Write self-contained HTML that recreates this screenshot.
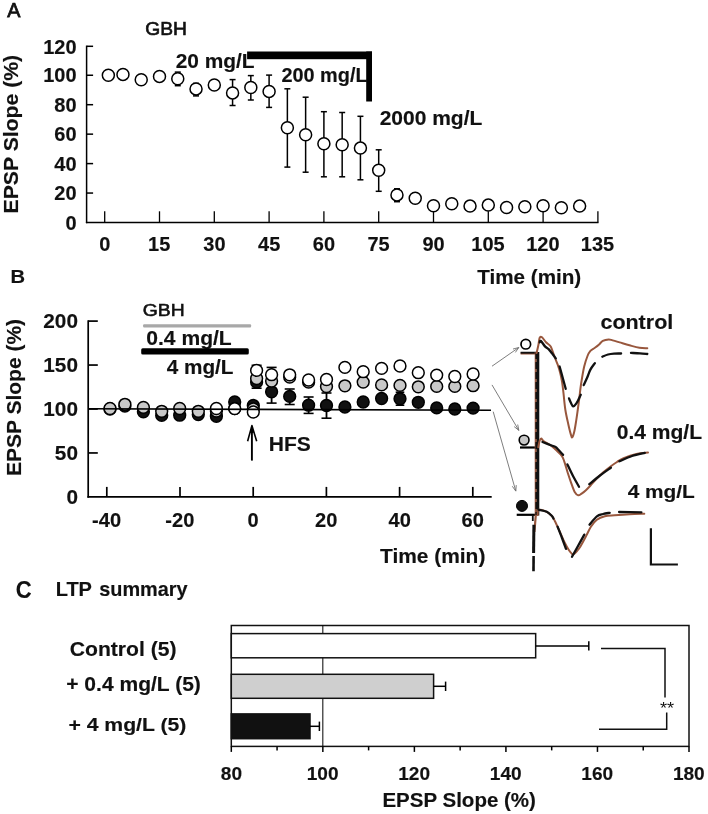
<!DOCTYPE html>
<html><head><meta charset="utf-8"><style>
html,body{margin:0;padding:0;background:#fff;}
svg{display:block;will-change:transform;}
text{font-family:"Liberation Sans",sans-serif;fill:#111;}
text[font-weight=bold]{stroke:#111;stroke-width:0.15px;}
</style></head><body>
<svg width="708" height="814" viewBox="0 0 708 814">
<rect width="708" height="814" fill="#fff"/>
<text x="7.15" y="16.90" font-size="20.14" font-weight="normal" textLength="13.19" lengthAdjust="spacingAndGlyphs" stroke="#111" stroke-width="0.75">A</text>
<text x="145.34" y="35.00" font-size="18.70" font-weight="normal" textLength="41.64" lengthAdjust="spacingAndGlyphs" stroke="#111" stroke-width="0.65">GBH</text>
<g transform="rotate(-90)"><text x="-213.43" y="17.70" font-size="19.86" font-weight="bold" textLength="158.61" lengthAdjust="spacingAndGlyphs">EPSP Slope (%)</text></g>
<line x1="86.60" y1="45.60" x2="86.60" y2="223.20" stroke="#000" stroke-width="1.5"/>
<line x1="85.90" y1="222.50" x2="598.50" y2="222.50" stroke="#000" stroke-width="1.5"/>
<text x="65.41" y="229.70" font-size="19.50" font-weight="bold" textLength="11.12" lengthAdjust="spacingAndGlyphs">0</text>
<line x1="86.60" y1="193.05" x2="93.10" y2="193.05" stroke="#000" stroke-width="1.5"/>
<text x="54.32" y="200.25" font-size="19.50" font-weight="bold" textLength="22.23" lengthAdjust="spacingAndGlyphs">20</text>
<line x1="86.60" y1="163.60" x2="93.10" y2="163.60" stroke="#000" stroke-width="1.5"/>
<text x="54.32" y="170.80" font-size="19.50" font-weight="bold" textLength="22.23" lengthAdjust="spacingAndGlyphs">40</text>
<line x1="86.60" y1="134.15" x2="93.10" y2="134.15" stroke="#000" stroke-width="1.5"/>
<text x="54.32" y="141.35" font-size="19.50" font-weight="bold" textLength="22.23" lengthAdjust="spacingAndGlyphs">60</text>
<line x1="86.60" y1="104.70" x2="93.10" y2="104.70" stroke="#000" stroke-width="1.5"/>
<text x="54.32" y="111.90" font-size="19.50" font-weight="bold" textLength="22.23" lengthAdjust="spacingAndGlyphs">80</text>
<line x1="86.60" y1="75.25" x2="93.10" y2="75.25" stroke="#000" stroke-width="1.5"/>
<text x="43.17" y="82.45" font-size="19.50" font-weight="bold" textLength="33.35" lengthAdjust="spacingAndGlyphs">100</text>
<line x1="86.60" y1="46.30" x2="93.10" y2="46.30" stroke="#000" stroke-width="1.5"/>
<text x="43.17" y="53.50" font-size="19.50" font-weight="bold" textLength="33.35" lengthAdjust="spacingAndGlyphs">120</text>
<line x1="104.70" y1="222.50" x2="104.70" y2="211.30" stroke="#000" stroke-width="1.3"/>
<text x="99.15" y="250.50" font-size="19.50" font-weight="bold" textLength="11.12" lengthAdjust="spacingAndGlyphs">0</text>
<line x1="159.50" y1="222.50" x2="159.50" y2="211.30" stroke="#000" stroke-width="1.3"/>
<text x="148.06" y="250.50" font-size="19.50" font-weight="bold" textLength="22.23" lengthAdjust="spacingAndGlyphs">15</text>
<line x1="214.30" y1="222.50" x2="214.30" y2="211.30" stroke="#000" stroke-width="1.3"/>
<text x="203.38" y="250.50" font-size="19.50" font-weight="bold" textLength="22.23" lengthAdjust="spacingAndGlyphs">30</text>
<line x1="269.10" y1="222.50" x2="269.10" y2="211.30" stroke="#000" stroke-width="1.3"/>
<text x="258.13" y="250.50" font-size="19.50" font-weight="bold" textLength="22.23" lengthAdjust="spacingAndGlyphs">45</text>
<line x1="323.90" y1="222.50" x2="323.90" y2="211.30" stroke="#000" stroke-width="1.3"/>
<text x="312.83" y="250.50" font-size="19.50" font-weight="bold" textLength="22.23" lengthAdjust="spacingAndGlyphs">60</text>
<line x1="378.70" y1="222.50" x2="378.70" y2="211.30" stroke="#000" stroke-width="1.3"/>
<text x="367.46" y="250.50" font-size="19.50" font-weight="bold" textLength="22.23" lengthAdjust="spacingAndGlyphs">75</text>
<line x1="433.50" y1="222.50" x2="433.50" y2="211.30" stroke="#000" stroke-width="1.3"/>
<text x="422.46" y="250.50" font-size="19.50" font-weight="bold" textLength="22.23" lengthAdjust="spacingAndGlyphs">90</text>
<line x1="488.30" y1="222.50" x2="488.30" y2="211.30" stroke="#000" stroke-width="1.3"/>
<text x="471.29" y="250.50" font-size="19.50" font-weight="bold" textLength="33.35" lengthAdjust="spacingAndGlyphs">105</text>
<line x1="543.10" y1="222.50" x2="543.10" y2="211.30" stroke="#000" stroke-width="1.3"/>
<text x="526.21" y="250.50" font-size="19.50" font-weight="bold" textLength="33.35" lengthAdjust="spacingAndGlyphs">120</text>
<line x1="597.90" y1="222.50" x2="597.90" y2="211.30" stroke="#000" stroke-width="1.3"/>
<text x="580.89" y="250.50" font-size="19.50" font-weight="bold" textLength="33.35" lengthAdjust="spacingAndGlyphs">135</text>
<text x="477.19" y="283.70" font-size="20.14" font-weight="bold" textLength="104.04" lengthAdjust="spacingAndGlyphs">Time (min)</text>
<rect x="247.10" y="51.50" width="124.90" height="7.70" fill="#000"/>
<rect x="366.20" y="51.50" width="5.80" height="50.00" fill="#000"/>
<text x="175.67" y="68.40" font-size="20.29" font-weight="bold" textLength="78.89" lengthAdjust="spacingAndGlyphs">20 mg/L</text>
<text x="281.40" y="81.50" font-size="20.43" font-weight="bold" textLength="86.19" lengthAdjust="spacingAndGlyphs">200 mg/L</text>
<text x="379.67" y="125.40" font-size="20.29" font-weight="bold" textLength="102.69" lengthAdjust="spacingAndGlyphs">2000 mg/L</text>
<line x1="177.77" y1="72.10" x2="177.77" y2="85.70" stroke="#000" stroke-width="1.5"/>
<line x1="174.77" y1="72.10" x2="180.77" y2="72.10" stroke="#000" stroke-width="1.5"/>
<line x1="174.77" y1="85.70" x2="180.77" y2="85.70" stroke="#000" stroke-width="1.5"/>
<line x1="196.03" y1="83.40" x2="196.03" y2="95.90" stroke="#000" stroke-width="1.5"/>
<line x1="193.03" y1="83.40" x2="199.03" y2="83.40" stroke="#000" stroke-width="1.5"/>
<line x1="193.03" y1="95.90" x2="199.03" y2="95.90" stroke="#000" stroke-width="1.5"/>
<line x1="232.57" y1="79.60" x2="232.57" y2="105.50" stroke="#000" stroke-width="1.5"/>
<line x1="229.57" y1="79.60" x2="235.57" y2="79.60" stroke="#000" stroke-width="1.5"/>
<line x1="229.57" y1="105.50" x2="235.57" y2="105.50" stroke="#000" stroke-width="1.5"/>
<line x1="250.83" y1="75.60" x2="250.83" y2="100.00" stroke="#000" stroke-width="1.5"/>
<line x1="247.83" y1="75.60" x2="253.83" y2="75.60" stroke="#000" stroke-width="1.5"/>
<line x1="247.83" y1="100.00" x2="253.83" y2="100.00" stroke="#000" stroke-width="1.5"/>
<line x1="269.10" y1="75.10" x2="269.10" y2="107.40" stroke="#000" stroke-width="1.5"/>
<line x1="266.10" y1="75.10" x2="272.10" y2="75.10" stroke="#000" stroke-width="1.5"/>
<line x1="266.10" y1="107.40" x2="272.10" y2="107.40" stroke="#000" stroke-width="1.5"/>
<line x1="287.37" y1="88.80" x2="287.37" y2="167.10" stroke="#000" stroke-width="1.5"/>
<line x1="284.37" y1="88.80" x2="290.37" y2="88.80" stroke="#000" stroke-width="1.5"/>
<line x1="284.37" y1="167.10" x2="290.37" y2="167.10" stroke="#000" stroke-width="1.5"/>
<line x1="305.63" y1="97.20" x2="305.63" y2="172.20" stroke="#000" stroke-width="1.5"/>
<line x1="302.63" y1="97.20" x2="308.63" y2="97.20" stroke="#000" stroke-width="1.5"/>
<line x1="302.63" y1="172.20" x2="308.63" y2="172.20" stroke="#000" stroke-width="1.5"/>
<line x1="323.90" y1="111.70" x2="323.90" y2="176.80" stroke="#000" stroke-width="1.5"/>
<line x1="320.90" y1="111.70" x2="326.90" y2="111.70" stroke="#000" stroke-width="1.5"/>
<line x1="320.90" y1="176.80" x2="326.90" y2="176.80" stroke="#000" stroke-width="1.5"/>
<line x1="342.17" y1="112.50" x2="342.17" y2="176.80" stroke="#000" stroke-width="1.5"/>
<line x1="339.17" y1="112.50" x2="345.17" y2="112.50" stroke="#000" stroke-width="1.5"/>
<line x1="339.17" y1="176.80" x2="345.17" y2="176.80" stroke="#000" stroke-width="1.5"/>
<line x1="360.43" y1="116.30" x2="360.43" y2="179.80" stroke="#000" stroke-width="1.5"/>
<line x1="357.43" y1="116.30" x2="363.43" y2="116.30" stroke="#000" stroke-width="1.5"/>
<line x1="357.43" y1="179.80" x2="363.43" y2="179.80" stroke="#000" stroke-width="1.5"/>
<line x1="378.70" y1="149.80" x2="378.70" y2="191.30" stroke="#000" stroke-width="1.5"/>
<line x1="375.70" y1="149.80" x2="381.70" y2="149.80" stroke="#000" stroke-width="1.5"/>
<line x1="375.70" y1="191.30" x2="381.70" y2="191.30" stroke="#000" stroke-width="1.5"/>
<line x1="396.97" y1="188.80" x2="396.97" y2="201.70" stroke="#000" stroke-width="1.5"/>
<line x1="393.97" y1="188.80" x2="399.97" y2="188.80" stroke="#000" stroke-width="1.5"/>
<line x1="393.97" y1="201.70" x2="399.97" y2="201.70" stroke="#000" stroke-width="1.5"/>
<circle cx="108.35" cy="75.30" r="6.00" fill="#fff" stroke="#000" stroke-width="1.5"/>
<circle cx="122.97" cy="74.40" r="6.00" fill="#fff" stroke="#000" stroke-width="1.5"/>
<circle cx="141.23" cy="79.80" r="6.00" fill="#fff" stroke="#000" stroke-width="1.5"/>
<circle cx="159.50" cy="76.40" r="6.00" fill="#fff" stroke="#000" stroke-width="1.5"/>
<circle cx="177.77" cy="78.70" r="6.00" fill="#fff" stroke="#000" stroke-width="1.5"/>
<circle cx="196.03" cy="88.90" r="6.00" fill="#fff" stroke="#000" stroke-width="1.5"/>
<circle cx="214.30" cy="85.00" r="6.00" fill="#fff" stroke="#000" stroke-width="1.5"/>
<circle cx="232.57" cy="92.90" r="6.00" fill="#fff" stroke="#000" stroke-width="1.5"/>
<circle cx="250.83" cy="87.50" r="6.00" fill="#fff" stroke="#000" stroke-width="1.5"/>
<circle cx="269.10" cy="91.40" r="6.00" fill="#fff" stroke="#000" stroke-width="1.5"/>
<circle cx="287.37" cy="127.70" r="6.00" fill="#fff" stroke="#000" stroke-width="1.5"/>
<circle cx="305.63" cy="134.80" r="6.00" fill="#fff" stroke="#000" stroke-width="1.5"/>
<circle cx="323.90" cy="143.70" r="6.00" fill="#fff" stroke="#000" stroke-width="1.5"/>
<circle cx="342.17" cy="144.80" r="6.00" fill="#fff" stroke="#000" stroke-width="1.5"/>
<circle cx="360.43" cy="148.10" r="6.00" fill="#fff" stroke="#000" stroke-width="1.5"/>
<circle cx="378.70" cy="170.20" r="6.00" fill="#fff" stroke="#000" stroke-width="1.5"/>
<circle cx="396.97" cy="194.90" r="6.00" fill="#fff" stroke="#000" stroke-width="1.5"/>
<circle cx="415.23" cy="198.30" r="6.00" fill="#fff" stroke="#000" stroke-width="1.5"/>
<circle cx="433.50" cy="205.80" r="6.00" fill="#fff" stroke="#000" stroke-width="1.5"/>
<circle cx="451.77" cy="203.70" r="6.00" fill="#fff" stroke="#000" stroke-width="1.5"/>
<circle cx="470.03" cy="206.10" r="6.00" fill="#fff" stroke="#000" stroke-width="1.5"/>
<circle cx="488.30" cy="205.10" r="6.00" fill="#fff" stroke="#000" stroke-width="1.5"/>
<circle cx="506.57" cy="207.50" r="6.00" fill="#fff" stroke="#000" stroke-width="1.5"/>
<circle cx="524.83" cy="206.80" r="6.00" fill="#fff" stroke="#000" stroke-width="1.5"/>
<circle cx="543.10" cy="205.80" r="6.00" fill="#fff" stroke="#000" stroke-width="1.5"/>
<circle cx="561.37" cy="207.80" r="6.00" fill="#fff" stroke="#000" stroke-width="1.5"/>
<circle cx="579.63" cy="206.10" r="6.00" fill="#fff" stroke="#000" stroke-width="1.5"/>
<text x="10.64" y="282.90" font-size="17.83" font-weight="bold" textLength="14.56" lengthAdjust="spacingAndGlyphs">B</text>
<g transform="rotate(-90)"><text x="-476.12" y="21.00" font-size="20.58" font-weight="bold" textLength="157.19" lengthAdjust="spacingAndGlyphs">EPSP Slope (%)</text></g>
<line x1="88.20" y1="320.30" x2="88.20" y2="497.70" stroke="#000" stroke-width="1.7"/>
<line x1="87.40" y1="496.90" x2="491.70" y2="496.90" stroke="#000" stroke-width="1.7"/>
<text x="66.40" y="503.90" font-size="20.07" font-weight="bold" textLength="11.55" lengthAdjust="spacingAndGlyphs">0</text>
<line x1="88.20" y1="452.95" x2="97.80" y2="452.95" stroke="#000" stroke-width="1.7"/>
<text x="54.87" y="459.95" font-size="20.07" font-weight="bold" textLength="23.11" lengthAdjust="spacingAndGlyphs">50</text>
<line x1="88.20" y1="409.00" x2="97.80" y2="409.00" stroke="#000" stroke-width="1.7"/>
<text x="43.29" y="416.00" font-size="20.07" font-weight="bold" textLength="34.66" lengthAdjust="spacingAndGlyphs">100</text>
<line x1="88.20" y1="365.05" x2="97.80" y2="365.05" stroke="#000" stroke-width="1.7"/>
<text x="43.29" y="372.05" font-size="20.07" font-weight="bold" textLength="34.66" lengthAdjust="spacingAndGlyphs">150</text>
<line x1="88.20" y1="321.10" x2="97.80" y2="321.10" stroke="#000" stroke-width="1.7"/>
<text x="43.29" y="328.10" font-size="20.07" font-weight="bold" textLength="34.66" lengthAdjust="spacingAndGlyphs">200</text>
<line x1="106.80" y1="496.90" x2="106.80" y2="486.90" stroke="#000" stroke-width="1.7"/>
<text x="92.10" y="526.80" font-size="20.07" font-weight="bold" textLength="29.01" lengthAdjust="spacingAndGlyphs">-40</text>
<line x1="180.00" y1="496.90" x2="180.00" y2="486.90" stroke="#000" stroke-width="1.7"/>
<text x="165.30" y="526.80" font-size="20.07" font-weight="bold" textLength="29.01" lengthAdjust="spacingAndGlyphs">-20</text>
<line x1="253.20" y1="496.90" x2="253.20" y2="486.90" stroke="#000" stroke-width="1.7"/>
<text x="247.43" y="526.80" font-size="20.07" font-weight="bold" textLength="11.16" lengthAdjust="spacingAndGlyphs">0</text>
<line x1="326.40" y1="496.90" x2="326.40" y2="486.90" stroke="#000" stroke-width="1.7"/>
<text x="315.11" y="526.80" font-size="20.07" font-weight="bold" textLength="22.33" lengthAdjust="spacingAndGlyphs">20</text>
<line x1="399.60" y1="496.90" x2="399.60" y2="486.90" stroke="#000" stroke-width="1.7"/>
<text x="388.51" y="526.80" font-size="20.07" font-weight="bold" textLength="22.33" lengthAdjust="spacingAndGlyphs">40</text>
<line x1="472.80" y1="496.90" x2="472.80" y2="486.90" stroke="#000" stroke-width="1.7"/>
<text x="461.49" y="526.80" font-size="20.07" font-weight="bold" textLength="22.33" lengthAdjust="spacingAndGlyphs">60</text>
<text x="379.99" y="562.80" font-size="20.72" font-weight="bold" textLength="105.36" lengthAdjust="spacingAndGlyphs">Time (min)</text>
<text x="142.83" y="315.50" font-size="17.10" font-weight="normal" textLength="41.85" lengthAdjust="spacingAndGlyphs" stroke="#111" stroke-width="0.6">GBH</text>
<rect x="143.10" y="324.20" width="108.00" height="3.20" fill="#a8a8a8" rx="1"/>
<text x="146.26" y="344.80" font-size="19.42" font-weight="bold" textLength="85.51" lengthAdjust="spacingAndGlyphs">0.4 mg/L</text>
<rect x="141.20" y="348.20" width="107.60" height="6.40" fill="#000" rx="1.5"/>
<text x="166.69" y="374.00" font-size="20.14" font-weight="bold" textLength="66.84" lengthAdjust="spacingAndGlyphs">4 mg/L</text>
<line x1="251.90" y1="427.00" x2="251.90" y2="460.60" stroke="#000" stroke-width="1.9"/>
<path d="M247.6,441.3 L251.9,425.6 L256.7,441.3" fill="none" stroke="#000" stroke-width="1.6" stroke-linejoin="round"/>
<path d="M250.1,433 L251.9,425.2 L253.7,433 Z" fill="#000"/>
<text x="268.78" y="450.80" font-size="20.72" font-weight="bold" textLength="42.06" lengthAdjust="spacingAndGlyphs">HFS</text>
<line x1="256.60" y1="365.30" x2="256.60" y2="388.20" stroke="#000" stroke-width="1.8"/>
<line x1="251.60" y1="365.30" x2="261.60" y2="365.30" stroke="#000" stroke-width="1.6"/>
<line x1="251.60" y1="388.20" x2="261.60" y2="388.20" stroke="#000" stroke-width="1.6"/>
<line x1="271.60" y1="367.40" x2="271.60" y2="403.10" stroke="#000" stroke-width="1.8"/>
<line x1="266.60" y1="367.40" x2="276.60" y2="367.40" stroke="#000" stroke-width="1.6"/>
<line x1="266.60" y1="403.10" x2="276.60" y2="403.10" stroke="#000" stroke-width="1.6"/>
<line x1="289.70" y1="389.00" x2="289.70" y2="404.50" stroke="#000" stroke-width="1.8"/>
<line x1="284.70" y1="389.00" x2="294.70" y2="389.00" stroke="#000" stroke-width="1.6"/>
<line x1="284.70" y1="404.50" x2="294.70" y2="404.50" stroke="#000" stroke-width="1.6"/>
<line x1="308.60" y1="397.00" x2="308.60" y2="413.40" stroke="#000" stroke-width="1.8"/>
<line x1="303.60" y1="397.00" x2="313.60" y2="397.00" stroke="#000" stroke-width="1.6"/>
<line x1="303.60" y1="413.40" x2="313.60" y2="413.40" stroke="#000" stroke-width="1.6"/>
<line x1="326.50" y1="393.00" x2="326.50" y2="418.20" stroke="#000" stroke-width="1.8"/>
<line x1="321.50" y1="393.00" x2="331.50" y2="393.00" stroke="#000" stroke-width="1.6"/>
<line x1="321.50" y1="418.20" x2="331.50" y2="418.20" stroke="#000" stroke-width="1.6"/>
<line x1="400.00" y1="392.20" x2="400.00" y2="405.20" stroke="#000" stroke-width="1.8"/>
<line x1="395.70" y1="392.20" x2="404.30" y2="392.20" stroke="#000" stroke-width="1.6"/>
<line x1="395.70" y1="405.20" x2="404.30" y2="405.20" stroke="#000" stroke-width="1.6"/>
<circle cx="110.00" cy="409.00" r="5.90" fill="#111" stroke="#000" stroke-width="1.5"/>
<circle cx="124.90" cy="406.00" r="5.90" fill="#111" stroke="#000" stroke-width="1.5"/>
<circle cx="143.40" cy="411.80" r="5.90" fill="#111" stroke="#000" stroke-width="1.5"/>
<circle cx="161.70" cy="415.40" r="5.90" fill="#111" stroke="#000" stroke-width="1.5"/>
<circle cx="179.70" cy="415.20" r="5.90" fill="#111" stroke="#000" stroke-width="1.5"/>
<circle cx="198.30" cy="414.60" r="5.90" fill="#111" stroke="#000" stroke-width="1.5"/>
<circle cx="216.40" cy="416.30" r="5.90" fill="#111" stroke="#000" stroke-width="1.5"/>
<circle cx="234.70" cy="401.90" r="5.90" fill="#111" stroke="#000" stroke-width="1.5"/>
<circle cx="253.30" cy="405.50" r="5.90" fill="#111" stroke="#000" stroke-width="1.5"/>
<circle cx="256.60" cy="382.00" r="5.90" fill="#111" stroke="#000" stroke-width="1.5"/>
<circle cx="271.60" cy="391.80" r="5.90" fill="#111" stroke="#000" stroke-width="1.5"/>
<circle cx="289.70" cy="396.40" r="5.90" fill="#111" stroke="#000" stroke-width="1.5"/>
<circle cx="308.60" cy="405.20" r="5.90" fill="#111" stroke="#000" stroke-width="1.5"/>
<circle cx="326.50" cy="405.50" r="5.90" fill="#111" stroke="#000" stroke-width="1.5"/>
<circle cx="344.90" cy="407.00" r="5.90" fill="#111" stroke="#000" stroke-width="1.5"/>
<circle cx="363.20" cy="402.00" r="5.90" fill="#111" stroke="#000" stroke-width="1.5"/>
<circle cx="381.60" cy="398.50" r="5.90" fill="#111" stroke="#000" stroke-width="1.5"/>
<circle cx="400.00" cy="398.80" r="5.90" fill="#111" stroke="#000" stroke-width="1.5"/>
<circle cx="418.30" cy="402.30" r="5.90" fill="#111" stroke="#000" stroke-width="1.5"/>
<circle cx="436.70" cy="407.90" r="5.90" fill="#111" stroke="#000" stroke-width="1.5"/>
<circle cx="454.80" cy="409.00" r="5.90" fill="#111" stroke="#000" stroke-width="1.5"/>
<circle cx="473.10" cy="408.10" r="5.90" fill="#111" stroke="#000" stroke-width="1.5"/>
<circle cx="110.00" cy="408.50" r="5.90" fill="#c8c8c8" stroke="#000" stroke-width="1.5"/>
<circle cx="124.90" cy="404.30" r="5.90" fill="#c8c8c8" stroke="#000" stroke-width="1.5"/>
<circle cx="143.40" cy="407.40" r="5.90" fill="#c8c8c8" stroke="#000" stroke-width="1.5"/>
<circle cx="161.70" cy="411.30" r="5.90" fill="#c8c8c8" stroke="#000" stroke-width="1.5"/>
<circle cx="179.70" cy="408.50" r="5.90" fill="#c8c8c8" stroke="#000" stroke-width="1.5"/>
<circle cx="198.30" cy="411.30" r="5.90" fill="#c8c8c8" stroke="#000" stroke-width="1.5"/>
<circle cx="216.40" cy="411.00" r="5.90" fill="#c8c8c8" stroke="#000" stroke-width="1.5"/>
<circle cx="234.70" cy="408.60" r="5.90" fill="#c8c8c8" stroke="#000" stroke-width="1.5"/>
<circle cx="253.30" cy="409.00" r="5.90" fill="#c8c8c8" stroke="#000" stroke-width="1.5"/>
<circle cx="256.60" cy="378.50" r="5.90" fill="#c8c8c8" stroke="#000" stroke-width="1.5"/>
<circle cx="271.60" cy="381.00" r="5.90" fill="#c8c8c8" stroke="#000" stroke-width="1.5"/>
<circle cx="289.70" cy="377.00" r="5.90" fill="#c8c8c8" stroke="#000" stroke-width="1.5"/>
<circle cx="308.60" cy="382.00" r="5.90" fill="#c8c8c8" stroke="#000" stroke-width="1.5"/>
<circle cx="326.50" cy="386.50" r="5.90" fill="#c8c8c8" stroke="#000" stroke-width="1.5"/>
<circle cx="344.90" cy="385.80" r="5.90" fill="#c8c8c8" stroke="#000" stroke-width="1.5"/>
<circle cx="363.20" cy="382.10" r="5.90" fill="#c8c8c8" stroke="#000" stroke-width="1.5"/>
<circle cx="381.60" cy="384.90" r="5.90" fill="#c8c8c8" stroke="#000" stroke-width="1.5"/>
<circle cx="400.00" cy="385.40" r="5.90" fill="#c8c8c8" stroke="#000" stroke-width="1.5"/>
<circle cx="418.30" cy="386.80" r="5.90" fill="#c8c8c8" stroke="#000" stroke-width="1.5"/>
<circle cx="436.70" cy="386.40" r="5.90" fill="#c8c8c8" stroke="#000" stroke-width="1.5"/>
<circle cx="454.80" cy="386.40" r="5.90" fill="#c8c8c8" stroke="#000" stroke-width="1.5"/>
<circle cx="473.10" cy="385.70" r="5.90" fill="#c8c8c8" stroke="#000" stroke-width="1.5"/>
<circle cx="216.40" cy="408.50" r="5.90" fill="#fff" stroke="#000" stroke-width="1.5"/>
<circle cx="234.70" cy="408.60" r="5.90" fill="#fff" stroke="#000" stroke-width="1.5"/>
<circle cx="253.30" cy="412.00" r="5.90" fill="#fff" stroke="#000" stroke-width="1.5"/>
<circle cx="256.60" cy="370.40" r="5.90" fill="#fff" stroke="#000" stroke-width="1.5"/>
<circle cx="271.60" cy="374.70" r="5.90" fill="#fff" stroke="#000" stroke-width="1.5"/>
<circle cx="289.70" cy="374.80" r="5.90" fill="#fff" stroke="#000" stroke-width="1.5"/>
<circle cx="308.60" cy="380.00" r="5.90" fill="#fff" stroke="#000" stroke-width="1.5"/>
<circle cx="326.50" cy="379.50" r="5.90" fill="#fff" stroke="#000" stroke-width="1.5"/>
<circle cx="344.90" cy="367.40" r="5.90" fill="#fff" stroke="#000" stroke-width="1.5"/>
<circle cx="363.20" cy="371.70" r="5.90" fill="#fff" stroke="#000" stroke-width="1.5"/>
<circle cx="381.60" cy="368.40" r="5.90" fill="#fff" stroke="#000" stroke-width="1.5"/>
<circle cx="400.00" cy="366.00" r="5.90" fill="#fff" stroke="#000" stroke-width="1.5"/>
<circle cx="418.30" cy="372.70" r="5.90" fill="#fff" stroke="#000" stroke-width="1.5"/>
<circle cx="436.70" cy="375.10" r="5.90" fill="#fff" stroke="#000" stroke-width="1.5"/>
<circle cx="454.80" cy="376.50" r="5.90" fill="#fff" stroke="#000" stroke-width="1.5"/>
<circle cx="473.10" cy="374.00" r="5.90" fill="#fff" stroke="#000" stroke-width="1.5"/>
<line x1="88.20" y1="408.70" x2="491.00" y2="410.30" stroke="#000" stroke-width="1.6"/>
<line x1="492.00" y1="366.20" x2="518.80" y2="347.50" stroke="#6f6f6f" stroke-width="0.9"/>
<line x1="518.80" y1="347.50" x2="515.36" y2="352.41" stroke="#6f6f6f" stroke-width="0.9"/>
<line x1="518.80" y1="347.50" x2="513.00" y2="349.04" stroke="#6f6f6f" stroke-width="0.9"/>
<line x1="492.00" y1="384.90" x2="518.80" y2="430.40" stroke="#6f6f6f" stroke-width="0.9"/>
<line x1="518.80" y1="430.40" x2="514.17" y2="426.59" stroke="#6f6f6f" stroke-width="0.9"/>
<line x1="518.80" y1="430.40" x2="517.71" y2="424.50" stroke="#6f6f6f" stroke-width="0.9"/>
<line x1="493.20" y1="411.70" x2="515.80" y2="491.10" stroke="#6f6f6f" stroke-width="0.9"/>
<line x1="515.80" y1="491.10" x2="512.28" y2="486.24" stroke="#6f6f6f" stroke-width="0.9"/>
<line x1="515.80" y1="491.10" x2="516.24" y2="485.12" stroke="#6f6f6f" stroke-width="0.9"/>
<circle cx="525.80" cy="344.20" r="4.80" fill="#fff" stroke="#000" stroke-width="1.7"/>
<circle cx="524.10" cy="440.10" r="4.90" fill="#c8c8c8" stroke="#000" stroke-width="1.6"/>
<circle cx="522.00" cy="505.90" r="5.50" fill="#111" stroke="#000" stroke-width="1.0"/>
<line x1="520.60" y1="353.40" x2="537.50" y2="353.40" stroke="#98573d" stroke-width="2.2"/>
<line x1="520.60" y1="352.70" x2="537.50" y2="352.70" stroke="#111" stroke-width="1.9"/>
<line x1="520.00" y1="447.50" x2="538.00" y2="447.50" stroke="#000" stroke-width="2.2"/>
<line x1="516.70" y1="514.80" x2="535.00" y2="514.80" stroke="#000" stroke-width="2.2"/>
<path d="M535.8,352 L535.8,515 L534.4,532" fill="none" stroke="#98573d" stroke-width="2.2"/>
<path d="M538.0,352 L538.0,515.5" fill="none" stroke="#111" stroke-width="2.6"/>
<path d="M536.4,352 L536.4,515" fill="none" stroke="#111" stroke-width="2" stroke-dasharray="7 3"/>
<path d="M532.8,515 L532.8,521" fill="none" stroke="#111" stroke-width="1.8"/>
<path d="M533.9,524.7 L533.6,553" fill="none" stroke="#111" stroke-width="3.0"/>
<path d="M533.6,556 L533.5,571.2" fill="none" stroke="#111" stroke-width="2.6"/>
<path d="M536.60,353.00 C536.90,351.67 537.88,347.57 538.40,345.00 C538.92,342.43 539.10,338.88 539.70,337.60 C540.30,336.32 540.95,336.52 542.00,337.30 C543.05,338.08 544.55,340.75 546.00,342.30 C547.45,343.85 549.28,344.20 550.70,346.60 C552.12,349.00 553.30,353.60 554.50,356.70 C555.70,359.80 556.92,362.37 557.90,365.20 C558.88,368.03 559.70,370.87 560.40,373.70 C561.10,376.53 561.60,379.10 562.10,382.20 C562.60,385.30 562.87,387.75 563.40,392.30 C563.93,396.85 564.48,404.18 565.30,409.50 C566.12,414.82 567.37,420.02 568.30,424.20 C569.23,428.38 570.23,432.42 570.90,434.60 C571.57,436.78 571.73,437.80 572.30,437.30 C572.87,436.80 573.65,434.38 574.30,431.60 C574.95,428.82 575.62,424.28 576.20,420.60 C576.78,416.92 577.28,413.20 577.80,409.50 C578.32,405.80 578.87,401.85 579.30,398.40 C579.73,394.95 580.00,391.87 580.40,388.80 C580.80,385.73 581.07,383.72 581.70,380.00 C582.33,376.28 583.23,370.50 584.20,366.50 C585.17,362.50 586.47,358.62 587.50,356.00 C588.53,353.38 589.17,352.17 590.40,350.80 C591.63,349.43 593.50,348.80 594.90,347.80 C596.30,346.80 597.48,345.95 598.80,344.80 C600.12,343.65 601.15,341.80 602.80,340.90 C604.45,340.00 607.05,339.48 608.70,339.40 C610.35,339.32 610.88,339.90 612.70,340.40 C614.52,340.90 616.80,341.58 619.60,342.40 C622.40,343.22 626.20,344.40 629.50,345.30 C632.80,346.20 636.43,347.30 639.40,347.80 C642.37,348.30 645.98,348.22 647.30,348.30" fill="none" stroke="#98573d" stroke-width="2.0" stroke-linecap="round" stroke-linejoin="round"/>
<path d="M539.70,342.30 C539.90,342.08 539.98,340.28 540.90,341.00 C541.82,341.72 543.92,345.25 545.20,346.60 C546.48,347.95 547.47,347.98 548.60,349.10 C549.73,350.22 550.80,351.75 552.00,353.30 C553.20,354.85 555.17,357.55 555.80,358.40" fill="none" stroke="#111" stroke-width="2.3" stroke-linecap="round" stroke-linejoin="round"/>
<path d="M559.60,366.50 C560.08,368.25 561.48,373.28 562.50,377.00 C563.52,380.72 565.17,386.83 565.70,388.80" fill="none" stroke="#111" stroke-width="2.3" stroke-linecap="round" stroke-linejoin="round"/>
<path d="M569.00,398.40 C569.33,399.17 570.32,401.68 571.00,403.00 C571.68,404.32 572.20,406.23 573.10,406.30 C574.00,406.37 575.12,405.33 576.40,403.40 C577.68,401.47 580.07,396.15 580.80,394.70" fill="none" stroke="#111" stroke-width="2.3" stroke-linecap="round" stroke-linejoin="round"/>
<path d="M583.70,385.10 C584.28,383.83 586.08,380.08 587.20,377.50 C588.32,374.92 589.12,372.00 590.40,369.60 C591.68,367.20 594.15,364.18 594.90,363.10" fill="none" stroke="#111" stroke-width="2.3" stroke-linecap="round" stroke-linejoin="round"/>
<path d="M602.30,356.70 C603.25,356.33 606.05,355.02 608.00,354.50 C609.95,353.98 611.82,353.77 614.00,353.60 C616.18,353.43 619.92,353.52 621.10,353.50" fill="none" stroke="#111" stroke-width="2.3" stroke-linecap="round" stroke-linejoin="round"/>
<path d="M631.00,352.90 C632.50,352.97 637.28,353.12 640.00,353.30 C642.72,353.48 646.08,353.88 647.30,354.00" fill="none" stroke="#111" stroke-width="2.3" stroke-linecap="round" stroke-linejoin="round"/>
<path d="M538.20,447.20 C538.43,446.17 539.10,442.43 539.60,441.00 C540.10,439.57 540.50,438.57 541.20,438.60 C541.90,438.63 542.08,439.98 543.80,441.20 C545.52,442.42 549.50,444.47 551.50,445.90 C553.50,447.33 554.08,448.15 555.80,449.80 C557.52,451.45 560.37,453.80 561.80,455.80 C563.23,457.80 563.40,458.93 564.40,461.80 C565.40,464.67 566.65,469.42 567.80,473.00 C568.95,476.58 570.15,480.15 571.30,483.30 C572.45,486.45 573.55,489.90 574.70,491.90 C575.85,493.90 577.05,495.02 578.20,495.30 C579.35,495.58 580.32,494.45 581.60,493.60 C582.88,492.75 584.42,491.55 585.90,490.20 C587.38,488.85 588.80,487.32 590.50,485.50 C592.20,483.68 594.02,481.47 596.10,479.30 C598.18,477.13 600.53,474.68 603.00,472.50 C605.47,470.32 608.57,467.95 610.90,466.20 C613.23,464.45 614.88,463.35 617.00,462.00 C619.12,460.65 620.37,459.45 623.60,458.10 C626.83,456.75 632.33,454.82 636.40,453.90 C640.47,452.98 646.07,452.82 648.00,452.60" fill="none" stroke="#98573d" stroke-width="2.0" stroke-linecap="round" stroke-linejoin="round"/>
<path d="M542.50,442.00 C544.00,442.58 549.28,444.63 551.50,445.50 C553.72,446.37 553.87,445.63 555.80,447.20 C557.73,448.77 561.88,453.62 563.10,454.90" fill="none" stroke="#111" stroke-width="2.3" stroke-linecap="round" stroke-linejoin="round"/>
<path d="M567.40,464.40 C568.33,466.33 571.07,472.28 573.00,476.00 C574.93,479.72 578.00,484.92 579.00,486.70" fill="none" stroke="#111" stroke-width="2.3" stroke-linecap="round" stroke-linejoin="round"/>
<path d="M589.30,484.20 C591.08,482.75 596.40,478.25 600.00,475.50 C603.60,472.75 609.08,469.00 610.90,467.70" fill="none" stroke="#111" stroke-width="2.3" stroke-linecap="round" stroke-linejoin="round"/>
<path d="M619.40,461.30 C621.50,460.42 627.77,457.42 632.00,456.00 C636.23,454.58 642.67,453.33 644.80,452.80" fill="none" stroke="#111" stroke-width="2.3" stroke-linecap="round" stroke-linejoin="round"/>
<path d="M537.60,515.00 C537.80,514.13 537.27,510.33 538.80,509.80 C540.33,509.27 544.65,510.80 546.80,511.80 C548.95,512.80 550.38,514.32 551.70,515.80 C553.02,517.28 553.40,518.17 554.70,520.70 C556.00,523.23 557.85,527.37 559.50,531.00 C561.15,534.63 563.10,539.42 564.60,542.50 C566.10,545.58 567.35,547.68 568.50,549.50 C569.65,551.32 570.67,552.60 571.50,553.40 C572.33,554.20 572.58,554.70 573.50,554.30 C574.42,553.90 575.85,552.32 577.00,551.00 C578.15,549.68 578.85,548.97 580.40,546.40 C581.95,543.83 584.55,538.88 586.30,535.60 C588.05,532.32 589.13,529.35 590.90,526.70 C592.67,524.05 594.58,521.43 596.90,519.70 C599.22,517.97 601.83,517.03 604.80,516.30 C607.77,515.57 610.58,515.63 614.70,515.30 C618.82,514.97 624.57,514.55 629.50,514.30 C634.43,514.05 641.83,513.88 644.30,513.80" fill="none" stroke="#98573d" stroke-width="2.0" stroke-linecap="round" stroke-linejoin="round"/>
<path d="M538.80,509.80 C540.13,510.13 544.65,510.80 546.80,511.80 C548.95,512.80 550.58,514.68 551.70,515.80 C552.82,516.92 553.20,518.05 553.50,518.50" fill="none" stroke="#111" stroke-width="2.3" stroke-linecap="round" stroke-linejoin="round"/>
<path d="M557.60,526.70 C558.33,528.58 560.60,534.30 562.00,538.00 C563.40,541.70 565.33,547.08 566.00,548.90" fill="none" stroke="#111" stroke-width="2.3" stroke-linecap="round" stroke-linejoin="round"/>
<path d="M572.00,556.80 C573.00,555.00 575.95,549.70 578.00,546.00 C580.05,542.30 583.25,536.50 584.30,534.60" fill="none" stroke="#111" stroke-width="2.3" stroke-linecap="round" stroke-linejoin="round"/>
<path d="M589.50,524.70 C590.73,523.30 594.65,518.08 596.90,516.30 C599.15,514.52 600.87,514.58 603.00,514.00 C605.13,513.42 608.58,513.00 609.70,512.80" fill="none" stroke="#111" stroke-width="2.3" stroke-linecap="round" stroke-linejoin="round"/>
<path d="M619.10,512.00 C622.82,512.05 637.68,512.25 641.40,512.30" fill="none" stroke="#111" stroke-width="2.3" stroke-linecap="round" stroke-linejoin="round"/>
<path d="M650.9,528.2 L650.9,564.5 L677.9,564.5" fill="none" stroke="#111" stroke-width="2.2"/>
<text x="600.44" y="328.70" font-size="19.86" font-weight="bold" textLength="72.79" lengthAdjust="spacingAndGlyphs">control</text>
<text x="616.76" y="439.00" font-size="19.71" font-weight="bold" textLength="85.31" lengthAdjust="spacingAndGlyphs">0.4 mg/L</text>
<text x="627.69" y="498.40" font-size="19.13" font-weight="bold" textLength="67.14" lengthAdjust="spacingAndGlyphs">4 mg/L</text>
<text x="15.72" y="598.10" font-size="23.80" font-weight="bold" textLength="15.88" lengthAdjust="spacingAndGlyphs">C</text>
<text x="55.65" y="595.90" font-size="19.42" font-weight="bold" textLength="36.34" lengthAdjust="spacingAndGlyphs">LTP</text>
<text x="99.20" y="595.80" font-size="20.20" font-weight="bold" textLength="88.43" lengthAdjust="spacingAndGlyphs">summary</text>
<text x="69.75" y="655.90" font-size="20.29" font-weight="bold" textLength="106.80" lengthAdjust="spacingAndGlyphs">Control (5)</text>
<text x="66.21" y="690.50" font-size="19.57" font-weight="bold" textLength="134.66" lengthAdjust="spacingAndGlyphs">+ 0.4 mg/L (5)</text>
<text x="68.40" y="730.80" font-size="19.28" font-weight="bold" textLength="117.99" lengthAdjust="spacingAndGlyphs">+ 4 mg/L (5)</text>
<rect x="231.30" y="625.50" width="457.70" height="120.90" fill="none" stroke="#111" stroke-width="1.5"/>
<line x1="322.84" y1="625.50" x2="322.84" y2="746.40" stroke="#000" stroke-width="1"/>
<rect x="231.30" y="633.6" width="304.37" height="24.2" fill="#fff" stroke="#111" stroke-width="1.5"/>
<rect x="231.30" y="674.3" width="202.30" height="24" fill="#cfcfcf" stroke="#111" stroke-width="1.5"/>
<rect x="231.30" y="713.9" width="78.72" height="24.8" fill="#111" stroke="#111" stroke-width="1.5"/>
<line x1="535.67" y1="645.90" x2="588.80" y2="645.90" stroke="#000" stroke-width="1.5"/>
<line x1="588.80" y1="641.20" x2="588.80" y2="650.60" stroke="#000" stroke-width="1.5"/>
<line x1="433.60" y1="686.30" x2="445.60" y2="686.30" stroke="#000" stroke-width="1.5"/>
<line x1="445.60" y1="681.60" x2="445.60" y2="691.00" stroke="#000" stroke-width="1.5"/>
<line x1="310.02" y1="726.30" x2="319.40" y2="726.30" stroke="#000" stroke-width="1.5"/>
<line x1="319.40" y1="721.60" x2="319.40" y2="731.00" stroke="#000" stroke-width="1.5"/>
<line x1="231.30" y1="746.40" x2="231.30" y2="751.90" stroke="#000" stroke-width="1.5"/>
<line x1="277.07" y1="746.40" x2="277.07" y2="750.40" stroke="#000" stroke-width="1.5"/>
<line x1="322.84" y1="746.40" x2="322.84" y2="751.90" stroke="#000" stroke-width="1.5"/>
<line x1="368.61" y1="746.40" x2="368.61" y2="750.40" stroke="#000" stroke-width="1.5"/>
<line x1="414.38" y1="746.40" x2="414.38" y2="751.90" stroke="#000" stroke-width="1.5"/>
<line x1="460.15" y1="746.40" x2="460.15" y2="750.40" stroke="#000" stroke-width="1.5"/>
<line x1="505.92" y1="746.40" x2="505.92" y2="751.90" stroke="#000" stroke-width="1.5"/>
<line x1="551.69" y1="746.40" x2="551.69" y2="750.40" stroke="#000" stroke-width="1.5"/>
<line x1="597.46" y1="746.40" x2="597.46" y2="751.90" stroke="#000" stroke-width="1.5"/>
<line x1="643.23" y1="746.40" x2="643.23" y2="750.40" stroke="#000" stroke-width="1.5"/>
<line x1="689.00" y1="746.40" x2="689.00" y2="751.90" stroke="#000" stroke-width="1.5"/>
<text x="220.79" y="779.90" font-size="19.07" font-weight="bold" textLength="21.21" lengthAdjust="spacingAndGlyphs">80</text>
<text x="306.73" y="779.90" font-size="19.07" font-weight="bold" textLength="31.82" lengthAdjust="spacingAndGlyphs">100</text>
<text x="398.27" y="779.90" font-size="19.07" font-weight="bold" textLength="31.82" lengthAdjust="spacingAndGlyphs">120</text>
<text x="489.81" y="779.90" font-size="19.07" font-weight="bold" textLength="31.82" lengthAdjust="spacingAndGlyphs">140</text>
<text x="581.35" y="779.90" font-size="19.07" font-weight="bold" textLength="31.82" lengthAdjust="spacingAndGlyphs">160</text>
<text x="672.89" y="779.90" font-size="19.07" font-weight="bold" textLength="31.82" lengthAdjust="spacingAndGlyphs">180</text>
<text x="382.42" y="806.70" font-size="19.71" font-weight="bold" textLength="153.53" lengthAdjust="spacingAndGlyphs">EPSP Slope (%)</text>
<path d="M601,648.4 L665,648.4 L665,697.4" fill="none" stroke="#111" stroke-width="1.5"/>
<path d="M666.7,712.6 L666.7,729.2 L599,729.2" fill="none" stroke="#111" stroke-width="1.5"/>
<text x="659.98" y="713.90" font-size="17.40" font-weight="normal" textLength="14.21" lengthAdjust="spacingAndGlyphs" fill="#222">**</text>
</svg>
</body></html>
